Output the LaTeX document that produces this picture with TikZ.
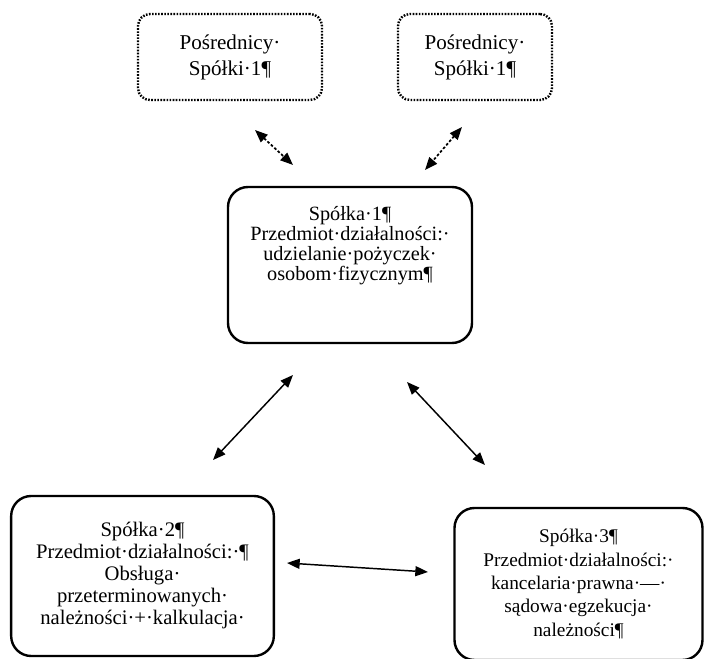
\documentclass[tikz,border=0pt]{standalone}
\usepackage{fontspec}
\setmainfont{Liberation Serif}
\usepackage{tikz}
\usetikzlibrary{arrows.meta}

\begin{document}
\begin{tikzpicture}[x=0.75pt,y=-0.75pt,
  every node/.style={align=center,inner sep=0pt},
  firm/.style={draw=black,line width=1.8pt,rounded corners=15pt},
  agent/.style={draw=black,line width=1.8pt,dash pattern=on 1.2pt off 1.1pt,rounded corners=9pt,font=\fontsize{15.8}{19.5}\selectfont},
  link/.style={{Triangle[length=9.5pt,width=7.5pt]}-{Triangle[length=9.5pt,width=7.5pt]},line width=1.1pt}]
\useasboundingbox (0,0) rectangle (704,659);

\node (p1)[agent,minimum width=138pt,minimum height=64.5pt] at (230,57) {Pośrednicy·\\Spółki·1¶};
\node (p2)[agent,minimum width=115.5pt,minimum height=64.5pt] at (475,57) {Pośrednicy·\\Spółki·1¶};
\node (s1)[firm,minimum width=183pt,minimum height=117pt] at (350,265) {};
\node (s1t)[font=\fontsize{15.2}{15}\selectfont] at (350,246) {Spółka·1¶\\Przedmiot·działalności:·\\udzielanie·pożyczek·\\osobom·fizycznym¶};
\node (s2)[firm,minimum width=197pt,minimum height=120pt,font=\fontsize{15.5}{16.5}\selectfont] at (142.5,576) {Spółka·2¶\\Przedmiot·działalności:·¶\\Obsługa·\\przeterminowanych·\\należności·+·kalkulacja·};
\node (s3)[firm,minimum width=186pt,minimum height=114pt,font=\fontsize{14.5}{17.6}\selectfont] at (578.5,584) {Spółka·3¶\\Przedmiot·działalności:·\\kancelaria·prawna·—·\\sądowa·egzekucja·\\należności¶};

\coordinate (a1) at (255,130);
\coordinate (a2) at (293,165);
\coordinate (b1) at (462,127);
\coordinate (b2) at (425,170);
\coordinate (c1) at (293,375);
\coordinate (c2) at (213,460);
\coordinate (d1) at (407,382);
\coordinate (d2) at (485,465);
\coordinate (e1) at (287,563);
\coordinate (e2) at (428,572);

\draw[link, line width=1.3pt, dash pattern=on 2pt off 1.5pt] (a1) to (a2);
\draw[link, line width=1.3pt, dash pattern=on 2pt off 1.5pt] (b1) to (b2);
\draw[link] (c1) to (c2);
\draw[link] (d1) to (d2);
\draw[link] (e1) to (e2);
\end{tikzpicture}
\end{document}
